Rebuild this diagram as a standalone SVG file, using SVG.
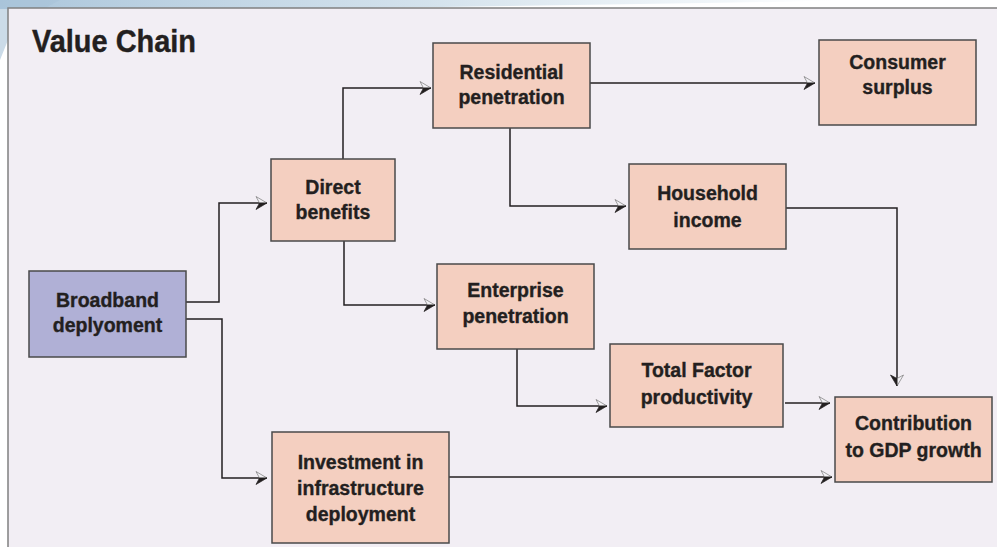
<svg xmlns="http://www.w3.org/2000/svg" width="997" height="547" viewBox="0 0 997 547">
<style>
.node rect{fill:#f4cfc0;stroke:#4a4a4a;stroke-width:1.5}
.node.blue rect{fill:#b0b0d6}
.node text{font-family:"Liberation Sans",Arial,sans-serif;font-weight:bold;font-size:19.5px;fill:#231f20;stroke:#231f20;stroke-width:0.35;text-anchor:middle}
.conn path{fill:none;stroke:#231f20;stroke-width:1.5;marker-end:url(#arr)}
</style>
<defs>
<linearGradient id="sw" x1="0" y1="0" x2="1" y2="0">
<stop offset="0" stop-color="#8fb3cf" stop-opacity="0.75"/>
<stop offset="0.5" stop-color="#b7cfe0" stop-opacity="0.6"/>
<stop offset="0.85" stop-color="#dde9f1" stop-opacity="0.4"/>
<stop offset="1" stop-color="#ffffff" stop-opacity="0"/>
</linearGradient>
<marker id="arr" markerUnits="userSpaceOnUse" viewBox="-13 -8 14 16" refX="0" refY="0" markerWidth="14" markerHeight="16" orient="auto">
<path d="M0,0 L-11,-6.5 L-7.5,0 Z" fill="#f4f2f6" stroke="#777" stroke-width="0.7"/>
<path d="M0,0 L-7.5,0 L-11,6.5 Z" fill="#231f20" stroke="#231f20" stroke-width="0.7"/>
</marker>
</defs>
<rect x="0" y="0" width="997" height="547" fill="#ffffff"/>
<path d="M0,0 H860 C700,4 500,6 300,9 L0,9 Z" fill="url(#sw)"/>
<path d="M0,0 H60 C40,10 20,25 8,40 L0,60 Z" fill="#a9c3d8" opacity="0.6"/>
<rect x="8" y="8" width="1000" height="560" fill="#f2eef4" stroke="#808080" stroke-width="1.5"/>
<text x="32" y="52" font-family="'Liberation Sans',Arial,sans-serif" font-weight="bold" font-size="31" fill="#231f20" stroke="#231f20" stroke-width="0.4" textLength="164" lengthAdjust="spacingAndGlyphs">Value Chain</text>
<g class="conn" id="connectors">
<path d="M186,302 H219 V203 H267"/>
<path d="M186,319 H222 V478 H267"/>
<path d="M343,159 V88 H431"/>
<path d="M344,241 V305 H435"/>
<path d="M590,83 H815"/>
<path d="M510,128 V206 H626"/>
<path d="M786,208 H897 V386"/>
<path d="M517,349 V406 H607"/>
<path d="M785,403 H830"/>
<path d="M449,477 H832"/>
</g>
<g class="node blue" id="broadband"><rect x="29" y="271" width="157" height="86"/><text x="107.5" y="307">Broadband</text><text x="107.5" y="332">deplyoment</text></g>
<g class="node" id="direct"><rect x="271" y="159" width="124" height="82"/><text x="333" y="194">Direct</text><text x="333" y="219">benefits</text></g>
<g class="node" id="residential"><rect x="433" y="43" width="157" height="85"/><text x="511.5" y="79">Residential</text><text x="511.5" y="104">penetration</text></g>
<g class="node" id="consumer"><rect x="819" y="40" width="157" height="85"/><text x="897.5" y="69">Consumer</text><text x="897.5" y="94">surplus</text></g>
<g class="node" id="household"><rect x="629" y="164" width="157" height="85"/><text x="707.5" y="200">Household</text><text x="707.5" y="227">income</text></g>
<g class="node" id="enterprise"><rect x="437" y="264" width="157" height="85"/><text x="515.5" y="297">Enterprise</text><text x="515.5" y="323">penetration</text></g>
<g class="node" id="tfp"><rect x="610" y="344" width="173" height="83"/><text x="696.5" y="377">Total Factor</text><text x="696.5" y="404">productivity</text></g>
<g class="node" id="gdp"><rect x="835" y="397" width="157" height="85"/><text x="913.5" y="430">Contribution</text><text x="913.5" y="457">to GDP growth</text></g>
<g class="node" id="investment"><rect x="272" y="432" width="177" height="111"/><text x="360.5" y="469">Investment in</text><text x="360.5" y="495">infrastructure</text><text x="360.5" y="521">deployment</text></g>
</svg>
